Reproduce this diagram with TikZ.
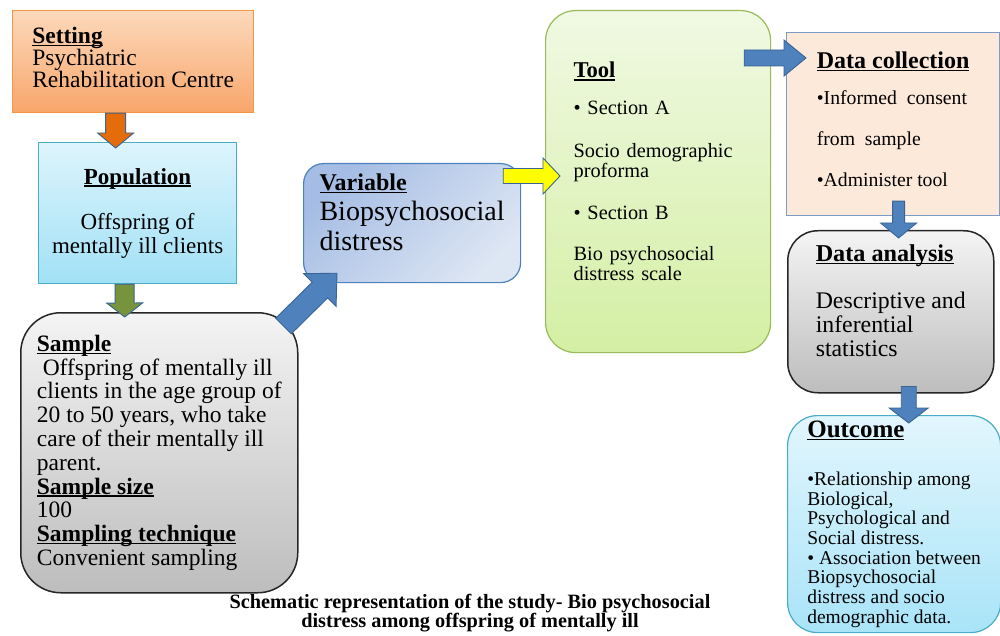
\documentclass[tikz,border=0pt]{standalone}
\usepackage{fontspec}
\setmainfont{Liberation Serif}
\usetikzlibrary{calc}

\definecolor{setTop}{HTML}{FCD9BC}
\definecolor{setBot}{HTML}{F8A66A}
\definecolor{setLine}{HTML}{F79646}
\definecolor{popTop}{HTML}{DDF4FC}
\definecolor{popBot}{HTML}{A1E1F6}
\definecolor{popLine}{HTML}{4BACC6}
\definecolor{smpTop}{HTML}{F4F4F4}
\definecolor{smpBot}{HTML}{BDBDBD}
\definecolor{smpLine}{HTML}{262626}
\definecolor{varTop}{HTML}{A5BDE4}
\definecolor{varBot}{HTML}{DDE6F3}
\definecolor{varLine}{HTML}{4F81BD}
\definecolor{toolTop}{HTML}{F0F9E3}
\definecolor{toolBot}{HTML}{D4EFA4}
\definecolor{toolLine}{HTML}{9BBB59}
\definecolor{dcFill}{HTML}{FDE9D9}
\definecolor{dcLine}{HTML}{7B9BC8}
\definecolor{outTop}{HTML}{E2F6FD}
\definecolor{outBot}{HTML}{A9E4F8}
\definecolor{arrLine}{HTML}{3A6494}
\definecolor{arrOrange}{HTML}{E46C0A}
\definecolor{arrGreen}{HTML}{77933C}
\definecolor{arrBlue}{HTML}{4F81BD}
\definecolor{arrYellow}{HTML}{FFFF00}

\newcommand\hd[1]{\textbf{\setbox0=\hbox{#1}\rlap{\rule[-2.6pt]{\wd0}{1.2pt}}\box0}}
\newcommand\lift[1]{\rule[-#1]{0pt}{#1}}
\newcommand\blockarrow[6][]{%
  \coordinate (ab) at ($(#3)!#6!(#2)$);
  \draw[blockarr,#1] ($(#2)!#4!90:(#3)$) -- ($(ab)!#4!90:(#3)$) -- ($(ab)!#5!90:(#3)$) -- (#3)
    -- ($(ab)!#5!-90:(#3)$) -- ($(ab)!#4!-90:(#3)$) -- ($(#2)!#4!-90:(#3)$) -- cycle;}

\begin{document}
\begin{tikzpicture}[x=1pt,y=-1pt,
  box/.style={draw,anchor=north west,align=left,line width=1.2pt},
  blockarr/.style={draw=arrLine,line width=0.9pt,line join=miter}]
\useasboundingbox[fill=white] (0,0) rectangle (1000,636);

\node[box,draw=setLine,top color=setTop,bottom color=setBot,minimum width=241,minimum height=102,
  font=\fontsize{23.5}{22}\selectfont] (set) at (12,10)
  {\hd{Setting}\\Psychiatric\\Rehabilitation Centre\lift{8pt}};
\node[box,align=center,draw=popLine,top color=popTop,bottom color=popBot,minimum width=198,minimum height=141,
  font=\fontsize{23}{24}\selectfont] (pop) at (38,142)
  {\hd{Population}\\[21pt]Offspring of\\mentally ill clients};
\node[box,draw=smpLine,line width=1.5pt,rounded corners=40pt,top color=smpTop,bottom color=smpBot,
  minimum width=277,minimum height=280,font=\fontsize{23.5}{23.8}\selectfont] (smp) at (20,312)
  {\hd{Sample}\\\hspace*{0.25em}Offspring of mentally ill\\clients in the age group of\\20 to 50 years, who take\\
   care of their mentally ill\\parent.\\\hd{Sample size}\\100\\\hd{Sampling technique}\\Convenient sampling};
\node[box,draw=varLine,rounded corners=20pt,top color=varTop,bottom color=varBot,shading angle=45,
  minimum width=217,minimum height=119,font=\fontsize{28}{30}\selectfont] (var) at (303,163)
  {{\fontsize{24}{24}\selectfont\hd{Variable}}\\Biopsychosocial\\distress\lift{22pt}};
\node[box,draw=toolLine,rounded corners=30pt,top color=toolTop,bottom color=toolBot,
  minimum width=225,minimum height=342,inner xsep=28pt,text width=169pt,
  font=\fontsize{20.3}{20}\selectfont] (tool) at (545,10)
  {{\fontsize{22.6}{22}\selectfont\hd{Tool}}\\[17pt]• Section A\\[23pt]Socio demographic\\proforma\\[22pt]
   • Section B\\[21pt]Bio psychosocial\\distress scale\lift{20pt}};
\node[box,draw=dcLine,fill=dcFill,minimum width=213,minimum height=183,font=\fontsize{19.7}{20}\selectfont] (dc) at (786,32)
  {{\fontsize{24}{24}\selectfont\hd{Data collection}}\\[16pt]•Informed\ \ consent\\[21pt]from\ \ sample\\[21pt]
   •Administer tool\lift{10pt}};
\node[box,draw=smpLine,line width=1.5pt,rounded corners=30pt,top color=smpTop,bottom color=smpBot,
  minimum width=206,minimum height=162,font=\fontsize{23.8}{24}\selectfont] (da) at (787,230)
  {{\fontsize{24.2}{24}\selectfont\hd{Data analysis}}\\[23pt]Descriptive and\\inferential\\statistics\lift{22pt}};
\node[box,draw=popLine,rounded corners=30pt,top color=outTop,bottom color=outBot,
  minimum width=213,minimum height=217,font=\fontsize{19.5}{19.7}\selectfont] (out) at (787,415)
  {\rule{0pt}{17pt}{\fontsize{25}{25}\selectfont\hd{Outcome}}\\[28pt]•Relationship among\\Biological,\\Psychological and\\
   Social distress.\\• Association between\\Biopsychosocial\\distress and socio\\demographic data.};
\node[align=center,font=\bfseries\fontsize{20.3}{18}\selectfont] (cap) at (470,613)
  {Schematic representation of the study- Bio psychosocial\\distress among offspring of mentally ill};

\coordinate (o1) at ($(set.south)+(-17.5,0)$);
\coordinate (o2) at ($(pop.north)+(-22,6)$);
\coordinate (g1) at ($(pop.south)+(-13,0)$);
\coordinate (g2) at ($(smp.north)+(-34.5,5)$);
\coordinate (d1) at ($(smp.north east)+(-15,14)$);
\coordinate (d2) at ($(var.south west)+(34,-10)$);
\coordinate (y1) at ($(var.north east)+(-18,13)$);
\coordinate (y2) at ($(y1 -| tool.west)+(15,0)$);
\coordinate (b1) at ($(tool.north east)+(-27,48)$);
\coordinate (b2) at ($(b1 -| dc.west)+(20,0)$);
\coordinate (c1) at ($(dc.south)+(5.5,-15)$);
\coordinate (c2) at ($(c1 |- da.north)+(0,8)$);
\coordinate (e1) at ($(da.south)+(18,-7)$);
\coordinate (e2) at ($(e1 |- out.north)+(0,8)$);

\blockarrow[fill=arrOrange]{o1}{o2}{10pt}{18pt}{15pt}
\blockarrow[fill=arrGreen]{g1}{g2}{9.5pt}{18pt}{14pt}
\blockarrow[fill=arrBlue]{d1}{d2}{11pt}{23pt}{24pt}
\blockarrow[fill=arrYellow]{y1}{y2}{7.5pt}{18pt}{17pt}
\blockarrow[fill=arrBlue]{b1}{b2}{8pt}{18pt}{22pt}
\blockarrow[fill=arrBlue]{c1}{c2}{6pt}{18pt}{15pt}
\blockarrow[fill=arrBlue]{e1}{e2}{7.5pt}{19.5pt}{15pt}
\end{tikzpicture}
\end{document}
